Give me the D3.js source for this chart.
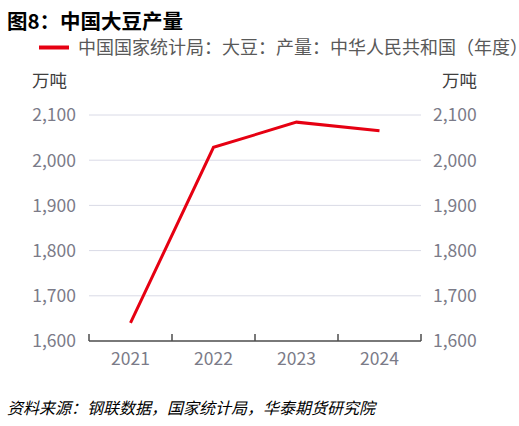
<!DOCTYPE html>
<html lang="zh">
  <head>
    <meta charset="utf-8" />
    <title>中国大豆产量</title>
    <script src="https://d3js.org/d3.v7.min.js"></script>
    <style>
      body {
        margin: 0;
        background: #fff;
      }
      svg {
        font-family: "Noto Sans CJK SC", "Noto Sans", sans-serif;
      }
      .grid line {
        stroke: #d9dae6;
        stroke-width: 1;
      }
      .tick-label {
        fill: #7b7b88;
        font-size: 17.5px;
      }
    </style>
  </head>
  <body>
    <div id="chart"></div>
    <script>
      // Data
      let years = ["2021", "2022", "2023", "2024"];
      let output = [1640, 2028.4, 2084.2, 2065];
      let yTicks = [1600, 1700, 1800, 1900, 2000, 2100];

      let width = 519;
      let height = 426;
      let plotLeft = 89;
      let plotRight = 421;
      let plotTop = 115;
      let plotBottom = 341;

      let svg = d3
        .select("#chart")
        .append("svg")
        .attr("width", width)
        .attr("height", height);

      let x = d3.scaleBand().domain(years).range([plotLeft, plotRight]);
      let y = d3.scaleLinear().domain([1600, 2100]).range([plotBottom, plotTop]);
      let fmt = d3.format(",");

      // Title
      svg
        .append("text")
        .attr("x", 7)
        .attr("y", 29)
        .attr("font-size", 20.5)
        .attr("font-weight", "bold")
        .attr("fill", "#000")
        .text("图8：中国大豆产量");

      // Legend
      svg
        .append("line")
        .attr("x1", 39)
        .attr("x2", 69)
        .attr("y1", 47.5)
        .attr("y2", 47.5)
        .attr("stroke", "#e60012")
        .attr("stroke-width", 4);
      svg
        .append("text")
        .attr("x", 78)
        .attr("y", 53.5)
        .attr("font-size", 18)
        .attr("fill", "#595959")
        .text("中国国家统计局：大豆：产量：中华人民共和国（年度）");

      // Units
      svg
        .append("text")
        .attr("x", 32)
        .attr("y", 87)
        .attr("font-size", 17.5)
        .attr("fill", "#404040")
        .text("万吨");
      svg
        .append("text")
        .attr("x", 442)
        .attr("y", 87)
        .attr("font-size", 17.5)
        .attr("fill", "#404040")
        .text("万吨");

      // Gridlines
      svg
        .append("g")
        .attr("class", "grid")
        .selectAll("line")
        .data(yTicks.filter((d) => d > 1600))
        .enter()
        .append("line")
        .attr("x1", plotLeft)
        .attr("x2", plotRight)
        .attr("y1", (d) => y(d))
        .attr("y2", (d) => y(d));

      // Left and right tick labels
      svg
        .append("g")
        .selectAll("text")
        .data(yTicks)
        .enter()
        .append("text")
        .attr("class", "tick-label")
        .attr("x", 76)
        .attr("y", (d) => y(d))
        .attr("dy", "0.36em")
        .attr("text-anchor", "end")
        .text((d) => fmt(d));
      svg
        .append("g")
        .selectAll("text")
        .data(yTicks)
        .enter()
        .append("text")
        .attr("class", "tick-label")
        .attr("x", 433)
        .attr("y", (d) => y(d))
        .attr("dy", "0.36em")
        .text((d) => fmt(d));

      // X axis
      let xAxis = svg
        .append("g")
        .attr("transform", "translate(0," + plotBottom + ")")
        .call(d3.axisBottom(x).tickSize(0).tickPadding(12));
      xAxis.select(".domain").remove();
      xAxis
        .selectAll("text")
        .attr("class", "tick-label")
        .attr("font-family", null)
        .attr("font-size", null);
      xAxis.attr("font-family", null).attr("font-size", null);

      let axisColor = "#4d4d4d";
      svg
        .append("line")
        .attr("x1", plotLeft)
        .attr("x2", plotRight)
        .attr("y1", plotBottom)
        .attr("y2", plotBottom)
        .attr("stroke", axisColor)
        .attr("stroke-width", 1.5);
      let edges = years.map((d) => x(d)).concat([plotRight]);
      svg
        .append("g")
        .selectAll("line")
        .data(edges)
        .enter()
        .append("line")
        .attr("x1", (d) => d)
        .attr("x2", (d) => d)
        .attr("y1", plotBottom)
        .attr("y2", plotBottom - 7)
        .attr("stroke", axisColor)
        .attr("stroke-width", 1.5);

      // Line
      let line = d3
        .line()
        .x((d, i) => x(years[i]) + x.bandwidth() / 2)
        .y((d) => y(d));
      svg
        .append("path")
        .datum(output)
        .attr("d", line)
        .attr("fill", "none")
        .attr("stroke", "#e60012")
        .attr("stroke-width", 3);

      // Source
      svg
        .append("text")
        .attr("x", 7)
        .attr("y", 414)
        .attr("font-size", 16)
        .attr("font-style", "italic")
        .attr("fill", "#000")
        .text("资料来源：钢联数据，国家统计局，华泰期货研究院");
    </script>
  </body>
</html>
